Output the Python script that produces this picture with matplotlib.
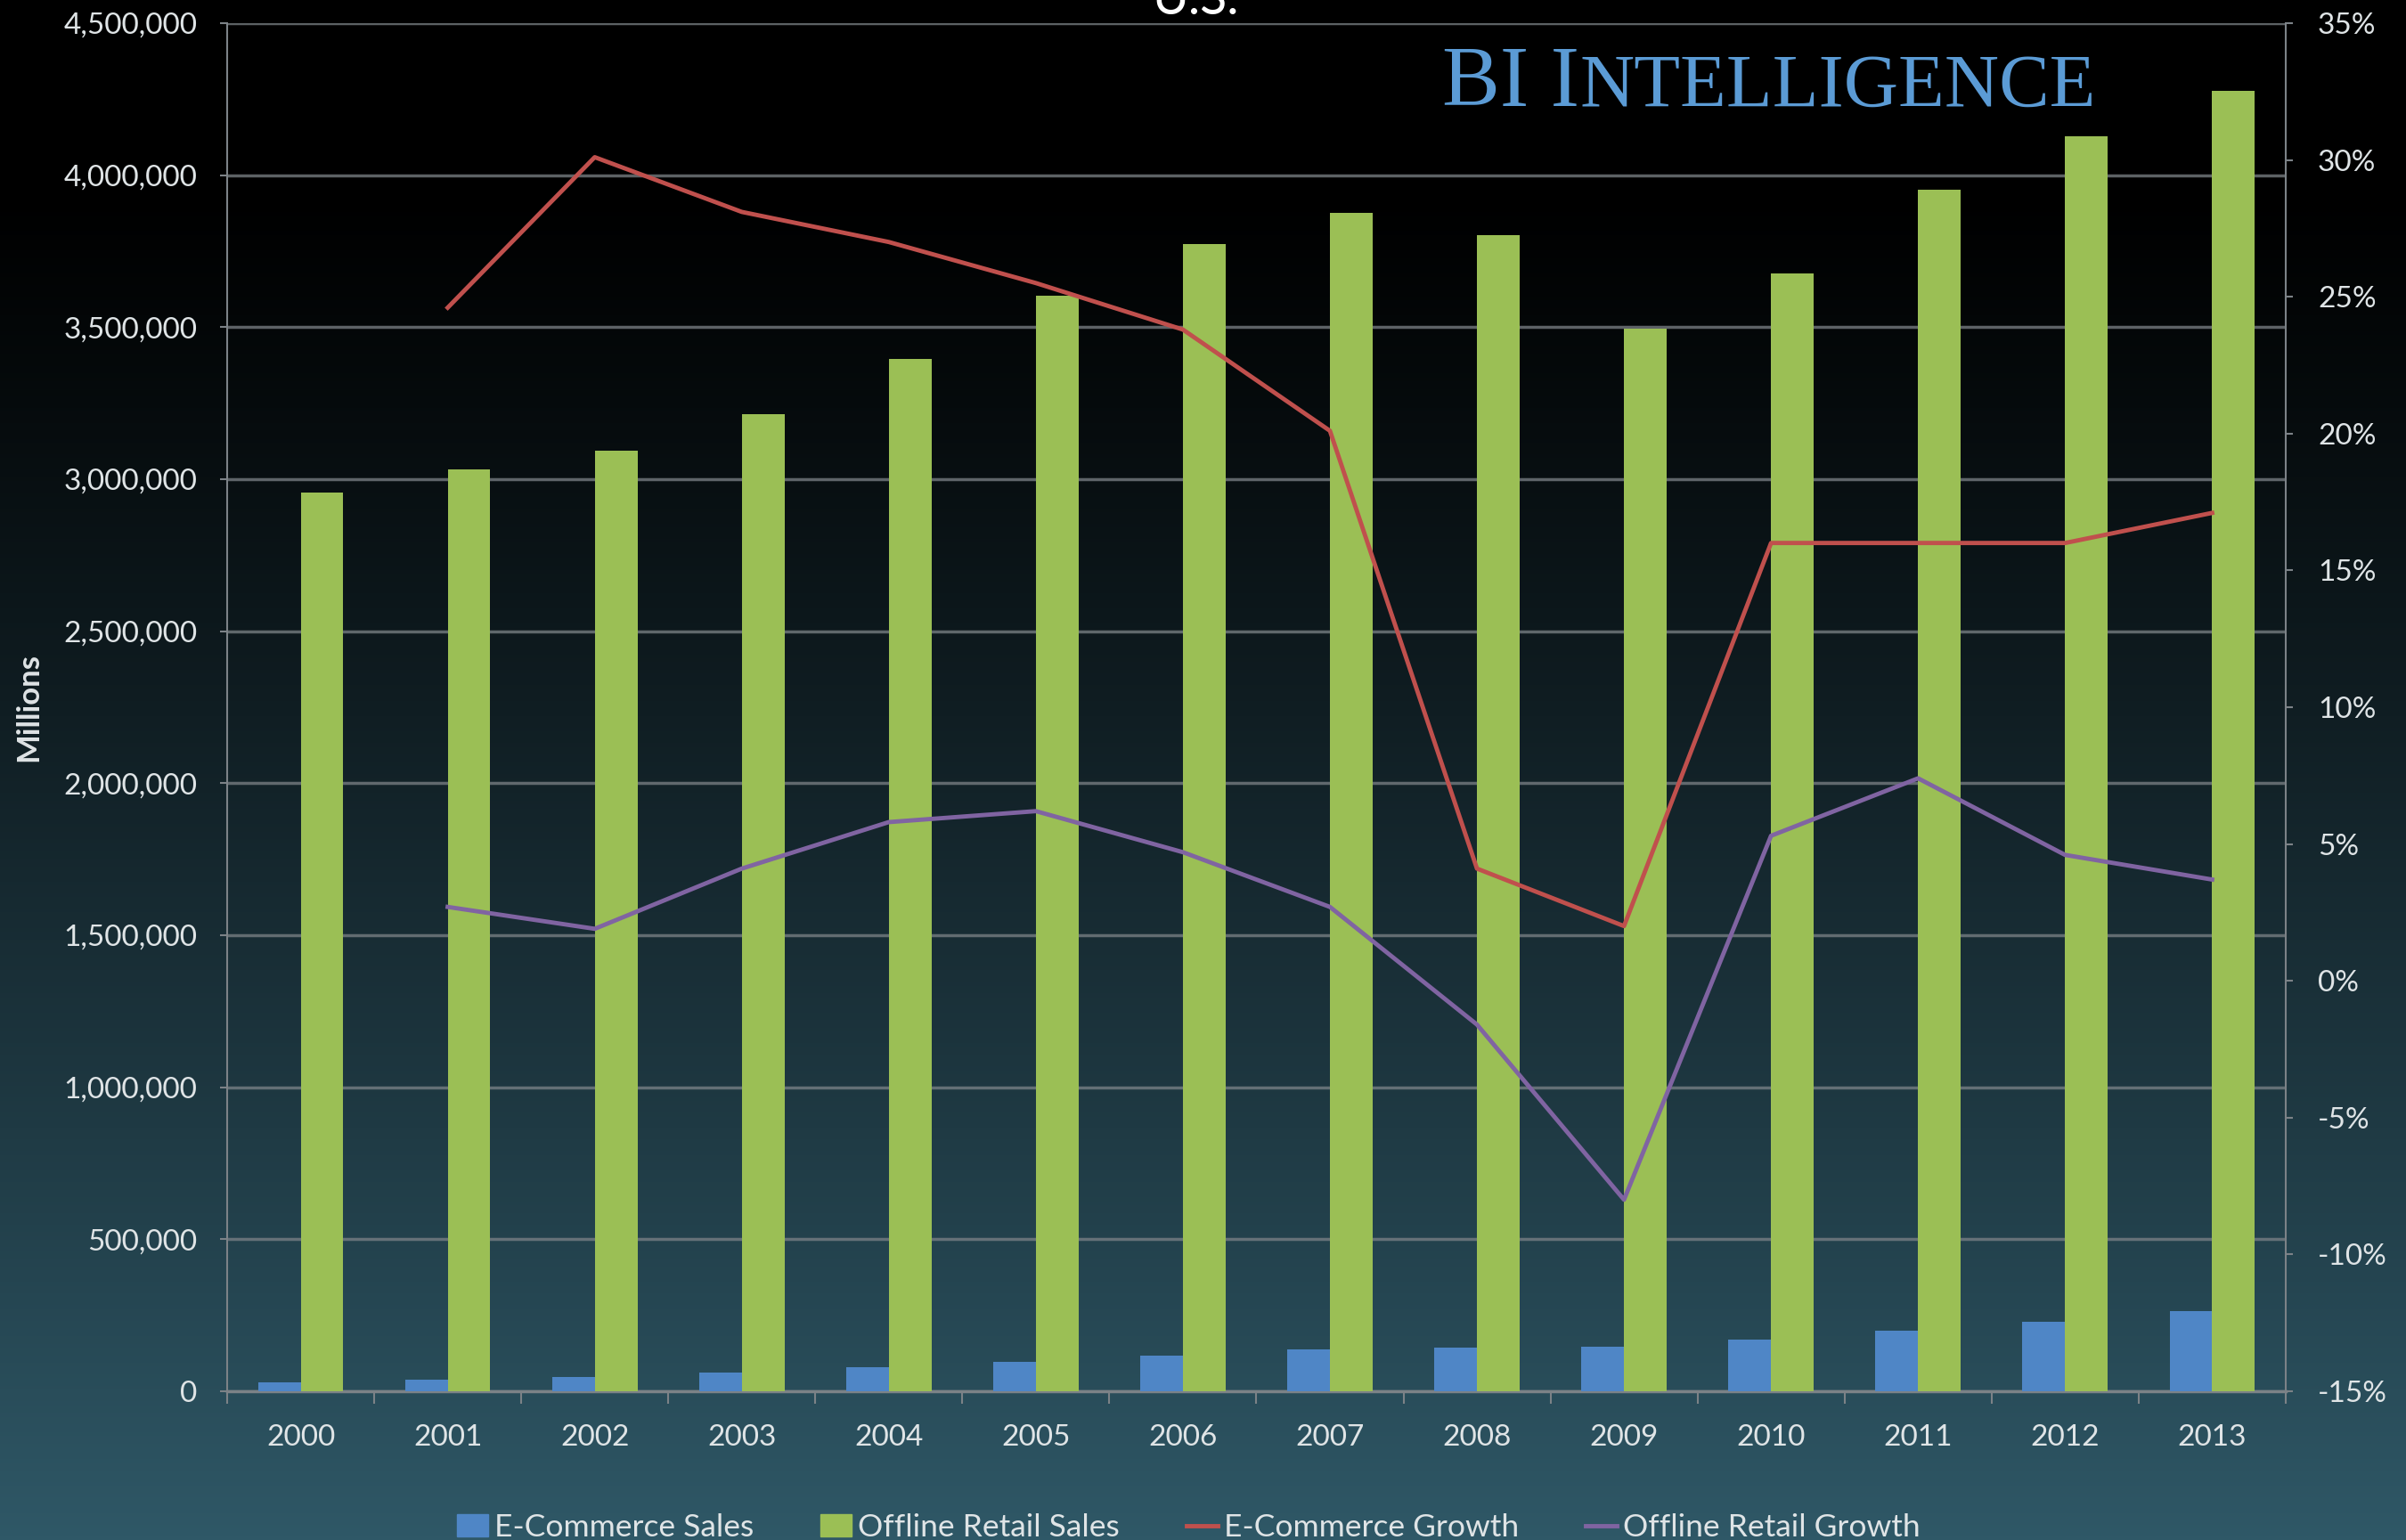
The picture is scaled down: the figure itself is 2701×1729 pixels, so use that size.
import matplotlib
matplotlib.use("Agg")
import matplotlib.pyplot as plt
import matplotlib.patches as mpatches
import matplotlib.lines as mlines
from matplotlib.ticker import FuncFormatter
import numpy as np

# ================= Data ===============
years = ["2000", "2001", "2002", "2003", "2004", "2005", "2006",
         "2007", "2008", "2009", "2010", "2011", "2012", "2013"]

# Millions
ecommerce_sales = [30000, 38000, 48000, 62000, 78000, 96000, 116000,
                   138000, 143000, 145000, 170000, 198000, 228000, 265000]
offline_sales = [2957000, 3032000, 3093000, 3214000, 3396000, 3602000, 3774000,
                 3875000, 3804000, 3496000, 3678000, 3951000, 4127000, 4278000]

# Percent, no value for 2000
ecommerce_growth = [None, 24.6, 30.1, 28.1, 27.0, 25.5, 23.8,
                    20.1, 4.1, 2.0, 16.0, 16.0, 16.0, 17.1]
offline_growth = [None, 2.7, 1.9, 4.1, 5.8, 6.2, 4.7,
                  2.7, -1.6, -8.0, 5.3, 7.4, 4.6, 3.7]

legend_labels = ["E-Commerce Sales", "Offline Retail Sales",
                 "E-Commerce Growth", "Offline Retail Growth"]

# ================= Styles ===============
blue = "#4f86c6"
green = "#9bbf55"
red = "#c0504d"
purple = "#8064a2"
txt = "#dfe4e6"
grid_col = "#7c8287"

plt.rcParams['font.family'] = ['Lato', 'DejaVu Sans']

fig = plt.figure(figsize=(27.01, 17.29), dpi=100)

# background gradient: black at top, teal at bottom
bg = fig.add_axes([0, 0, 1, 1], zorder=-10)
t = np.linspace(0, 1, 400)
ramp = np.clip((t - 0.12) / 0.88, 0, 1) ** 1.15
top_c = np.array([0.0, 0.0, 0.0])
bot_c = np.array([47, 88, 103]) / 255.0
grad = top_c[None, :] * (1 - ramp[:, None]) + bot_c[None, :] * ramp[:, None]
bg.imshow(grad[:, None, :], aspect="auto", extent=[0, 1, 1, 0])
bg.set_axis_off()

ax = fig.add_axes([0.0944, 0.0966, 0.8556, 0.8884])
ax.set_facecolor("none")
x = np.arange(len(years))
w = 0.29

ax.bar(x - w / 2, ecommerce_sales, width=w, color=blue, zorder=3)
ax.bar(x + w / 2, offline_sales, width=w, color=green, zorder=3)

ax.set_xlim(-0.5, len(years) - 0.5)
ax.set_ylim(0, 4500000)
ax.set_yticks(np.arange(0, 4500001, 500000))
ax.yaxis.set_major_formatter(FuncFormatter(lambda v, p: f"{int(v):,}"))
ax.set_xticks(x)
ax.set_xticklabels(years)
ax.set_xticks(np.arange(-0.5, len(years)), minor=True)
ax.tick_params(axis="x", which="major", length=0, pad=27, labelsize=24, labelcolor=txt)
ax.tick_params(axis="x", which="minor", length=10, width=1.5, color=grid_col)
ax.tick_params(axis="y", length=6, width=1.5, color=grid_col, labelsize=24,
               labelcolor=txt, pad=18)
ax.grid(axis="y", color=grid_col, linewidth=2.5, alpha=0.75, zorder=0)
ax.set_axisbelow(True)
for s in ["top", "right"]:
    ax.spines[s].set_visible(False)
ax.spines["left"].set_color(grid_col)
ax.spines["left"].set_linewidth(1.5)
ax.spines["bottom"].set_color(grid_col)
ax.spines["bottom"].set_linewidth(2.5)
ax.set_ylabel("Millions", fontsize=25, fontweight="bold", color=txt, labelpad=17)

# ================= Growth lines ===============
ax2 = ax.twinx()
ax2.set_ylim(-15, 35)
ax2.set_yticks(np.arange(-15, 36, 5))
ax2.yaxis.set_major_formatter(FuncFormatter(lambda v, p: f"{int(v)}%"))
eg = np.array([np.nan if v is None else v for v in ecommerce_growth], dtype=float)
og = np.array([np.nan if v is None else v for v in offline_growth], dtype=float)
ax2.plot(x, eg, color=red, linewidth=3.5, zorder=5)
ax2.plot(x, og, color=purple, linewidth=3.5, zorder=5)
ax2.tick_params(axis="y", length=6, width=1.5, color=grid_col, labelsize=24,
                labelcolor=txt, pad=20)
for s in ["top", "left", "bottom"]:
    ax2.spines[s].set_visible(False)
ax2.spines["right"].set_color(grid_col)
ax2.spines["right"].set_linewidth(1.5)

# ================= Titles / logo ===============
fig.text(0.497, 1.0, "U.S.", ha="center", va="center", fontsize=40, color="white")

renderer = fig.canvas.get_renderer()
t1 = fig.text(0.5995, 0.931, "BI I", fontsize=70, color="#5b9bd5",
              family=["Liberation Serif"], va="baseline")
bb = t1.get_window_extent(renderer)
fig.text(bb.x1 / fig.bbox.width, 0.931, "NTELLIGENCE", fontsize=61,
         color="#5b9bd5", family=["Liberation Serif"], va="baseline")

# ================= Legend ===============
handles = [mpatches.Patch(color=blue), mpatches.Patch(color=green),
           mlines.Line2D([], [], color=red, linewidth=3.5),
           mlines.Line2D([], [], color=purple, linewidth=3.5)]
fig.legend(handles, legend_labels, loc="center", bbox_to_anchor=(0.494, 0.008),
           ncol=4, frameon=False, fontsize=25.5, labelcolor=txt,
           handlelength=1.0, handletextpad=0.2, columnspacing=2.1)

fig.savefig("out.png", dpi=100)
